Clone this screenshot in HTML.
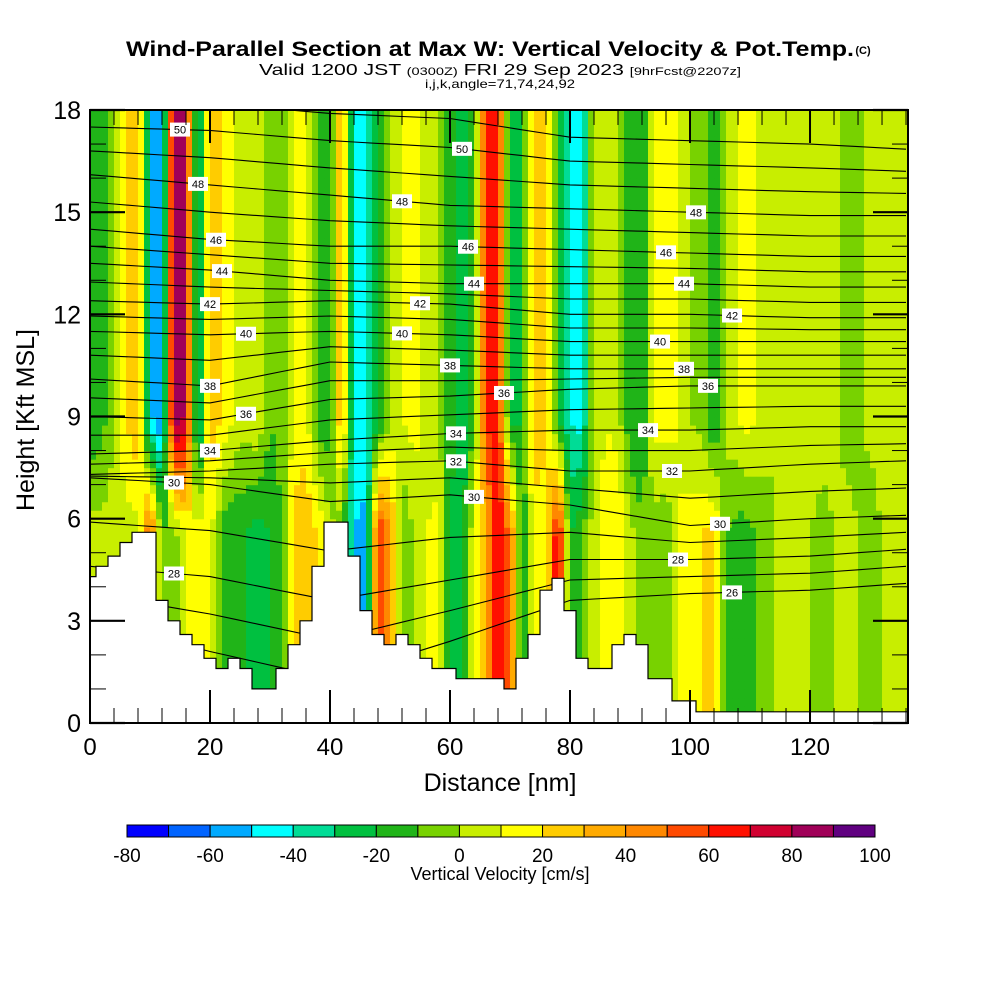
<!DOCTYPE html>
<html><head><meta charset="utf-8"><style>
html,body{margin:0;padding:0;background:#fff;}
svg{display:block;font-family:"Liberation Sans",sans-serif;}
</style></head><body>
<svg id="chart" width="1000" height="1000" viewBox="0 0 1000 1000">
<defs><clipPath id="pc"><rect x="90" y="110" width="818" height="613"/></clipPath></defs>
<g>
<text x="490" y="56" text-anchor="middle" font-size="21" font-weight="bold" textLength="728" lengthAdjust="spacingAndGlyphs">Wind-Parallel Section at Max W: Vertical Velocity &amp; Pot.Temp.</text>
<text x="863" y="54" text-anchor="middle" font-size="11" font-weight="bold">(C)</text>
<text x="500" y="75" text-anchor="middle" font-size="16" textLength="482" lengthAdjust="spacingAndGlyphs">Valid 1200 JST <tspan font-size="11">(0300Z)</tspan> FRI 29 Sep 2023 <tspan font-size="11">[9hrFcst@2207z]</tspan></text>
<text x="500" y="88" text-anchor="middle" font-size="12" textLength="150" lengthAdjust="spacingAndGlyphs">i,j,k,angle=71,74,24,92</text>
</g>
<g id="field" clip-path="url(#pc)"></g>
<g id="isen" clip-path="url(#pc)"></g>
<g id="terr" clip-path="url(#pc)"></g>
<g id="labs"></g>
<rect x="90" y="110" width="818" height="613" fill="none" stroke="#000" stroke-width="2"/>
<g id="axes"></g>
<text x="500" y="791" text-anchor="middle" font-size="25">Distance [nm]</text>
<text transform="translate(34,420) rotate(-90)" text-anchor="middle" font-size="25">Height [Kft MSL]</text>
<g id="cbar"></g>
<text x="500" y="880" text-anchor="middle" font-size="18">Vertical Velocity [cm/s]</text>
</svg>
<script>
// ---- data ----
const colStepNm = 2;
const upperW = [-20,-15,0,20,30,-50,-60,90,80,-50,30,20,10,5,10,-10,-5,10,15,-15,-20,35,-45,-40,-25,0,10,15,5,0,-15,-30,-10,60,70,-25,-20,30,25,-20,-40,-45,5,10,5,-20,-20,15,15,10,0,-5,-25,5,10,15,5,0,5,0,10,5,5,-5,-5,5,10,5,5];
const lowerW = [5,5,5,5,5,60,-10,-5,10,15,15,-15,-20,-20,-25,-20,-10,25,30,20,5,-10,-50,-55,65,40,-10,0,10,15,-20,-25,10,30,70,50,-20,15,10,80,-20,-10,5,15,20,5,-10,-5,-10,10,15,20,25,-10,-15,-15,-5,0,0,5,0,-5,0,5,0,-10,0,5,5];
const terrainKft = [4.3,4.6,4.9,5.3,5.6,5.6,3.6,3.0,2.6,2.3,1.9,1.6,1.9,1.6,1.0,1.0,1.6,2.3,3.0,4.6,5.9,5.9,4.9,3.3,2.6,2.3,2.6,2.3,1.9,1.6,1.6,1.3,1.3,1.3,1.3,1.0,1.9,2.6,3.9,4.25,3.3,1.9,1.6,1.6,2.3,2.6,2.3,1.3,1.3,0.65,0.65,0.33,0.33,0.33,0.33,0.33,0.33,0.33,0.33,0.33,0.33,0.33,0.33,0.33,0.33,0.33,0.33,0.33,0.33];
const binEdges = [-80,-70,-60,-50,-40,-30,-20,-10,0,10,20,30,40,50,60,70,80,90,100];
const binColors = ["#0000ff","#0064ff","#00aaff","#00ffff","#00dc96","#00c040","#20b418","#78d200","#c8ee00","#ffff00","#ffcc00","#ffaa00","#ff8800","#ff4a00","#ff1000","#d00030","#a00058","#600080"];
const cbLabels = ["-80","-60","-40","-20","0","20","40","60","80","100"];
const isoX = [0,20,40,60,80,100,120,136];
const isoLevels = [26,28,30,32,34,36,38,40,42,44,46,48,50];
const iso26 = [3.0,2.1,1.3,2.4,3.6,3.8,3.9,4.1];
const iso28 = [4.6,4.3,3.6,4.2,4.8,4.8,4.9,5.1];
const iso30 = [7.2,7.0,6.5,6.7,6.4,5.8,6.0,6.1];
const iso32 = [7.3,7.4,7.6,7.7,7.4,7.4,7.6,7.7];
const iso34 = [7.9,8.0,8.3,8.5,8.6,8.6,8.7,8.7];
const iso36 = [9.0,8.9,9.5,9.6,9.8,9.9,9.9,9.9];
const iso38 = [10.1,9.9,10.6,10.5,10.4,10.4,10.4,10.4];
const iso40 = [11.5,11.4,11.5,11.4,11.2,11.2,11.2,11.2];
const iso42 = [12.4,12.3,12.4,12.3,12.0,12.0,11.9,11.9];
const iso44 = [13.5,13.3,13.0,12.9,12.9,12.9,12.8,12.8];
const iso46 = [14.5,14.2,14.0,14.0,13.9,13.8,13.7,13.7];
const iso48 = [16.1,15.8,15.5,15.2,15.1,15.0,14.9,14.9];
const iso50 = [17.5,17.4,17.1,16.9,16.5,16.4,16.3,16.2];
const labelTheta = [50,48,46,44,42,40,38,36,34,30,28,48,46,44,42,40,38,36,34,32,30,50,48,46,44,42,40,38,36,34,32,30,28,26];
const labelNm = [15,18,21,22,20,26,20,26,20,14,14,52,63,64,55,52,60,69,61,61,64,62,101,96,99,107,95,99,103,93,97,105,98,107];
// ---- axes functions ----
const X0=90,X1=908,Y0=723,Y1=110,XMAX=136.33,YMAX=18;
const sx=v=>X0+v*(X1-X0)/XMAX;
const sy=v=>Y0-v*(Y0-Y1)/YMAX;
const NS="http://www.w3.org/2000/svg";
function mk(tag,attrs,parent){const e=document.createElementNS(NS,tag);for(const k in attrs)e.setAttribute(k,attrs[k]);parent.appendChild(e);return e;}
function colorFor(w){for(let i=0;i<binColors.length;i++){if(w<binEdges[i+1])return binColors[i];}return binColors[binColors.length-1];}
function interpArr(arr,nm){const f=nm/colStepNm;const i=Math.max(0,Math.min(arr.length-1,Math.floor(f)));const j=Math.min(arr.length-1,i+1);const t=Math.max(0,Math.min(1,f-i));return arr[i]*(1-t)+arr[j]*t;}
// field
const field=document.getElementById('field');
const dx=1,dh=0.25;
for(let x=0;x<137;x+=dx){
  const up=interpArr(upperW,x+0.5),lo=interpArr(lowerW,x+0.5);
  for(let h=0;h<YMAX;h+=dh){
    const hc=h+dh/2;let t=(hc-5.5)/3.5;t=Math.max(0,Math.min(1,t));
    const w=lo*(1-t)+up*t;
    const r=mk('rect',{x:sx(x).toFixed(2),y:sy(h+dh).toFixed(2),width:(sx(x+dx)-sx(x)+0.6).toFixed(2),height:(sy(h)-sy(h+dh)+0.6).toFixed(2),fill:colorFor(w)},field);
    
    
  }
}
// isentropes
const isoSets=[iso26,iso28,iso30,iso32,iso34,iso36,iso38,iso40,iso42,iso44,iso46,iso48,iso50];
function isoHeight(theta,nm){
  let k=Math.floor((theta-isoLevels[0])/2);k=Math.max(0,Math.min(isoLevels.length-2,k));
  const t=(theta-isoLevels[k])/2;
  let s=0;while(s<isoX.length-2&&nm>isoX[s+1])s++;
  const u=(nm-isoX[s])/(isoX[s+1]-isoX[s]);
  const a=isoSets[k][s]*(1-u)+isoSets[k][s+1]*u;
  const b=isoSets[k+1][s]*(1-u)+isoSets[k+1][s+1]*u;
  return a*(1-t)+b*t;
}
const isen=document.getElementById('isen');
for(let th=26;th<=51;th++){
  let d='';
  for(let nm=0;nm<=136.4;nm+=4){d+=(d?'L':'M')+sx(nm).toFixed(1)+','+sy(isoHeight(th,nm)).toFixed(1);}
  const p=mk('path',{d:d,fill:'none',stroke:'#000','stroke-width':1.1},isen);
  
  
}
// terrain
const terr=document.getElementById('terr');
let td='M'+sx(0)+','+sy(0);
terrainKft.forEach((h,i)=>{const a=Math.max(0,i*colStepNm-1),b=i*colStepNm+1;td+='L'+sx(a).toFixed(1)+','+sy(h).toFixed(1)+'L'+sx(b).toFixed(1)+','+sy(h).toFixed(1);});
td+='L'+sx(137)+','+sy(terrainKft[terrainKft.length-1])+'L'+sx(137)+','+sy(0)+'Z';
const tp=mk('path',{d:td,fill:'#fff',stroke:'#000','stroke-width':1.2},terr);


// labels
const labs=document.getElementById('labs');
labelTheta.forEach((th,i)=>{
  const cx=sx(labelNm[i]),cy=sy(isoHeight(th,labelNm[i]));
  const g=mk('g',{},labs);
  
  
  mk('rect',{x:cx-10,y:cy-7,width:20,height:14,fill:'#fff'},g);
  const t=mk('text',{x:cx,y:cy+4,'text-anchor':'middle','font-size':11},g);
  t.textContent=String(th);
});
// axes
const axes=document.getElementById('axes');
function line(x1,y1,x2,y2,w,name){const l=mk('line',{x1:x1,y1:y1,x2:x2,y2:y2,stroke:'#000','stroke-width':w},axes);}
for(let v=0;v<=136;v+=4){const major=v%20===0;const L=major?33:15;const x=sx(v);
  line(x,Y0,x,Y0-L,major?2:1,'x-tick');line(x,Y1,x,Y1+(major?33:15),major?2:1,'x-tick-top');
  if(major){const t=mk('text',{x:x,y:755,'text-anchor':'middle','font-size':24},axes);t.textContent=String(v);}
}
for(let v=0;v<=18;v++){const major=v%3===0;const L=major?35:16;const y=sy(v);
  line(X0,y,X0+L,y,major?2.2:1,'y-tick');line(X1,y,X1-L,y,major?2.2:1,'y-tick-right');
  if(major){const t=mk('text',{x:81,y:y+9,'text-anchor':'end','font-size':25},axes);t.textContent=String(v);}
}
// colorbar
const cbar=document.getElementById('cbar');
const CB0=127,CB1=875,bw=(CB1-CB0)/binColors.length;
binColors.forEach((c,i)=>{const r=mk('rect',{x:CB0+i*bw,y:825,width:bw,height:12,fill:c,stroke:'#000','stroke-width':1},cbar);});
cbLabels.forEach((s,i)=>{const t=mk('text',{x:CB0+i*2*bw,y:862,'text-anchor':'middle','font-size':19},cbar);t.textContent=s;});
</script>
</body></html>
